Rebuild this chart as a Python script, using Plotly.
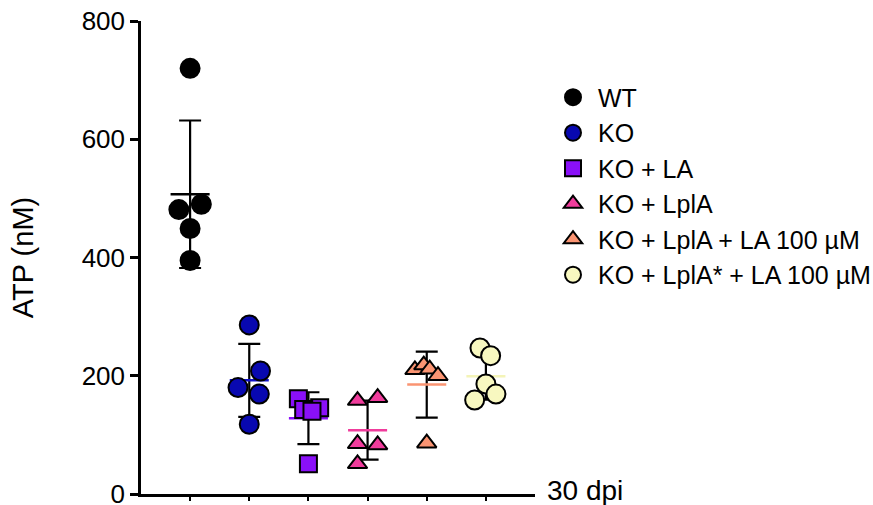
import numpy as np
import plotly.graph_objects as go

groups = ["WT", "KO", "KO + LA", "KO + LplA", "KO + LplA + LA 100 µM", "KO + LplA* + LA 100 µM"]
wt = [720, 481, 490, 449, 395]
ko = [286, 208, 180, 169, 118]
ko_la = [161, 146, 143, 140, 51]
ko_lpla = [158, 163, 85, 83, 51]
ko_lpla_la = [210, 218, 211, 200, 86]
ko_lplastar_la = [247, 234, 186, 159, 169]
values = [wt, ko, ko_la, ko_lpla, ko_lpla_la, ko_lplastar_la]

jitter = [
    [0, -0.19, 0.19, 0, 0],
    [0, 0.19, -0.19, 0.17, 0],
    [-0.17, 0.19, -0.08, 0.06, 0],
    [-0.17, 0.17, -0.17, 0.17, -0.17],
    [-0.2, -0.05, 0.05, 0.19, 0],
    [-0.1, 0.08, 0, -0.19, 0.17],
]
fills = ["#000000", "#0808b0", "#8a10f8", "#f03c9c", "#fa9472", "#f8f8c0"]
meanline = ["#000000", "#1010c8", "#8a10f8", "#f03c9c", "#fa9472", "#f4f4b8"]
symbols = ["circle", "circle", "square", "triangle-up", "triangle-up", "circle"]
sizes = [19, 19, 17, 17, 17, 19]

FONT = "Liberation Sans, Arial, sans-serif"
fig = go.Figure()

# error bars and mean lines (drawn behind points)
for i, v in enumerate(values):
    m = float(np.mean(v))
    sd = float(np.std(v, ddof=1))
    fig.add_trace(go.Scatter(
        x=[i], y=[m], mode="markers", marker=dict(size=1, color="rgba(0,0,0,0)"),
        error_y=dict(type="data", array=[sd], color="black", thickness=2.2, width=11),
        showlegend=False, hoverinfo="skip"))
    fig.add_trace(go.Scatter(
        x=[i - 0.33, i + 0.33], y=[m, m], mode="lines",
        line=dict(color=meanline[i], width=2.5),
        showlegend=False, hoverinfo="skip"))

for i, v in enumerate(values):
    fig.add_trace(go.Scatter(
        x=[i + d for d in jitter[i]], y=v, mode="markers", name=groups[i],
        marker=dict(symbol=symbols[i], size=sizes[i], color=fills[i],
                    line=dict(color="black", width=2))))

fig.update_layout(
    width=873, height=505,
    margin=dict(l=141, r=338, t=21, b=11, autoexpand=False),
    plot_bgcolor="white", paper_bgcolor="white",
    font=dict(family=FONT, color="black", size=25),
    showlegend=True,
    legend=dict(x=1.033, y=0.887, xanchor="left", yanchor="top",
                font=dict(size=25, family=FONT), bgcolor="rgba(0,0,0,0)",
                itemwidth=40, tracegroupgap=0),
    xaxis=dict(range=[-0.83, 5.83], tickvals=[0, 1, 2, 3, 4, 5], showticklabels=False,
               ticks="outside", ticklen=4, tickwidth=2, tickcolor="black",
               showline=True, linecolor="black", linewidth=2.5, showgrid=False,
               zeroline=False, automargin=False),
    yaxis=dict(range=[0, 800], tickvals=[0, 200, 400, 600, 800],
               ticks="outside", ticklen=8, tickwidth=2.5, tickcolor="black",
               showline=True, linecolor="black", linewidth=2.5, showgrid=False,
               zeroline=False, automargin=False, ticklabeloverflow="allow",
               tickfont=dict(size=26, family=FONT),
               title=dict(text="ATP (nM)", font=dict(size=29, family=FONT), standoff=40)),
    annotations=[dict(text="30 dpi", xref="paper", yref="paper", x=1, y=0,
                      xanchor="left", yanchor="middle", xshift=10, yshift=4,
                      showarrow=False, font=dict(size=28, family=FONT))],
)

fig.write_html("out.html", config={"displayModeBar": False},
               post_script="document.body.style.margin='0px';document.body.style.overflow='hidden';")
